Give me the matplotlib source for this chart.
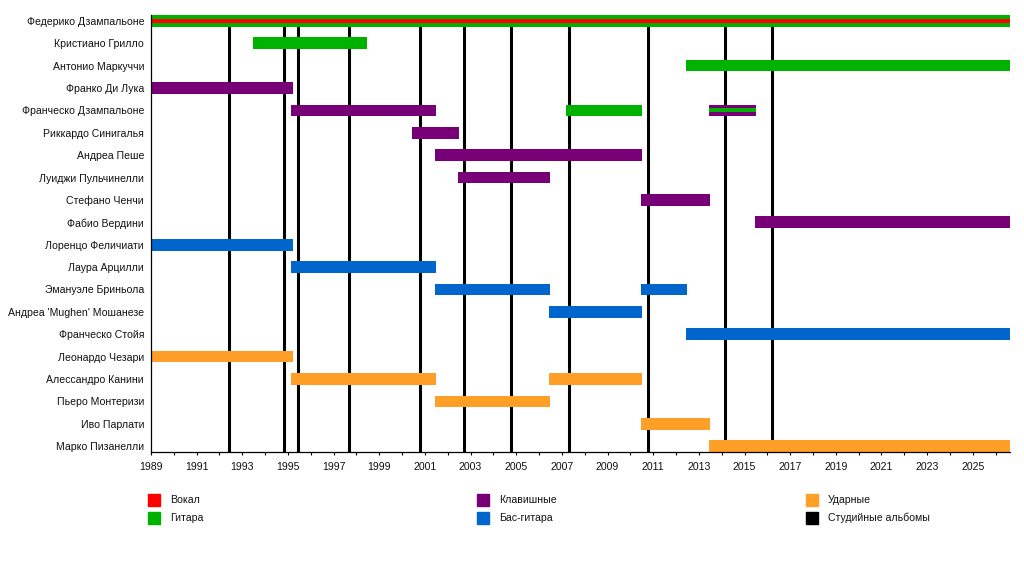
import matplotlib
matplotlib.use("Agg")
import matplotlib.pyplot as plt
from matplotlib.patches import Rectangle
from matplotlib.ticker import MultipleLocator

plt.rcParams['font.family'] = ['Liberation Sans', 'DejaVu Sans']

start = 1989
present = 2026.63

members = ['Федерико Дзампальоне', 'Кристиано Грилло', 'Антонио Маркуччи',
           'Франко Ди Лука', 'Франческо Дзампальоне', 'Риккардо Синигалья',
           'Андреа Пеше', 'Луиджи Пульчинелли', 'Стефано Ченчи', 'Фабио Вердини',
           'Лоренцо Феличиати', 'Лаура Арцилли', 'Эмануэле Бриньола',
           "Андреа 'Mughen' Мошанезе", 'Франческо Стойя', 'Леонардо Чезари',
           'Алессандро Канини', 'Пьеро Монтеризи', 'Иво Парлати', 'Марко Пизанелли']

# (member, from, till) per role
guitar = [('Федерико Дзампальоне', start, present),
          ('Кристиано Грилло', 1993.45, 1998.45),
          ('Антонио Маркуччи', 2012.45, present),
          ('Франческо Дзампальоне', 2007.2, 2010.5)]
vocals = [('Федерико Дзампальоне', start, present)]
keyboards = [('Франко Ди Лука', start, 1995.2),
             ('Франческо Дзампальоне', 1995.15, 2001.5),
             ('Франческо Дзампальоне', 2013.45, 2015.5),
             ('Риккардо Синигалья', 2000.45, 2002.5),
             ('Андреа Пеше', 2001.45, 2010.5),
             ('Луиджи Пульчинелли', 2002.45, 2006.5),
             ('Стефано Ченчи', 2010.45, 2013.5),
             ('Фабио Вердини', 2015.45, present)]
guitar_inner = [('Франческо Дзампальоне', 2013.45, 2015.5)]
bass = [('Лоренцо Феличиати', start, 1995.2),
        ('Лаура Арцилли', 1995.15, 2001.5),
        ('Эмануэле Бриньола', 2001.45, 2006.5),
        ('Эмануэле Бриньола', 2010.45, 2012.5),
        ("Андреа 'Mughen' Мошанезе", 2006.45, 2010.5),
        ('Франческо Стойя', 2012.45, present)]
drums = [('Леонардо Чезари', start, 1995.2),
         ('Алессандро Канини', 1995.15, 2001.5),
         ('Алессандро Канини', 2006.45, 2010.5),
         ('Пьеро Монтеризи', 2001.45, 2006.5),
         ('Иво Парлати', 2010.45, 2013.5),
         ('Марко Пизанелли', 2013.45, present)]

albums = [1992.43, 1994.84, 1995.45, 1997.69, 2000.8, 2002.72,
          2004.77, 2007.32, 2010.78, 2014.16, 2016.21]

legend_labels = ['Вокал', 'Гитара', 'Клавишные', 'Бас-гитара', 'Ударные', 'Студийные альбомы']
colors = {'Вокал': '#ff0000', 'Гитара': '#00b200', 'Клавишные': '#770077',
          'Бас-гитара': '#0066cc', 'Ударные': '#ff9f28', 'Студийные альбомы': '#000000'}

W, H = 1024, 572
fig = plt.figure(figsize=(W / 100, H / 100), dpi=100)
ax = fig.add_axes([151 / W, 1 - 452 / H, (1010 - 151) / W, (452 - 15) / H])

row = {name: i for i, name in enumerate(members)}


def draw(spans, color, height):
    ys = [row[m] for m, a, b in spans]
    lefts = [a for m, a, b in spans]
    widths = [b - a for m, a, b in spans]
    ax.barh(ys, widths, left=lefts, height=height, color=color, zorder=2, linewidth=0)


for yr in albums:
    ax.axvline(yr, color='black', lw=2.2, zorder=1)

draw(guitar, colors['Гитара'], 0.52)
draw(keyboards, colors['Клавишные'], 0.52)
draw(bass, colors['Бас-гитара'], 0.52)
draw(drums, colors['Ударные'], 0.52)
draw(vocals, colors['Вокал'], 0.18)
draw(guitar_inner, colors['Гитара'], 0.18)

ax.set_xlim(start, present)
ax.set_ylim(len(members) - 1 + 0.26, -0.26)
ax.set_yticks(range(len(members)))
ax.set_yticklabels(members, fontsize=7.6, color='#111111')
ax.tick_params(axis='y', length=0, pad=5)
ax.xaxis.set_major_locator(MultipleLocator(2, offset=1))
ax.xaxis.set_minor_locator(MultipleLocator(1))
ax.tick_params(axis='x', which='both', length=2.5, width=0.8, labelsize=7.6,
               labelcolor='#111111', pad=4.5)
for s in ['top', 'right']:
    ax.spines[s].set_visible(False)
for s in ['left', 'bottom']:
    ax.spines[s].set_linewidth(0.9)

# legend in three columns
col_x = [148, 477, 806]
row_y = [500, 518]
for i, lab in enumerate(legend_labels):
    cx = col_x[i // 2]
    cy = row_y[i % 2]
    fig.patches.append(Rectangle((cx / W, 1 - (cy + 6) / H), 12 / W, 12 / H,
                                 transform=fig.transFigure, color=colors[lab]))
    fig.text((cx + 22) / W, 1 - cy / H, lab, fontsize=7.6, va='center', ha='left',
             color='#111111')

fig.savefig('out.png', dpi=100)
